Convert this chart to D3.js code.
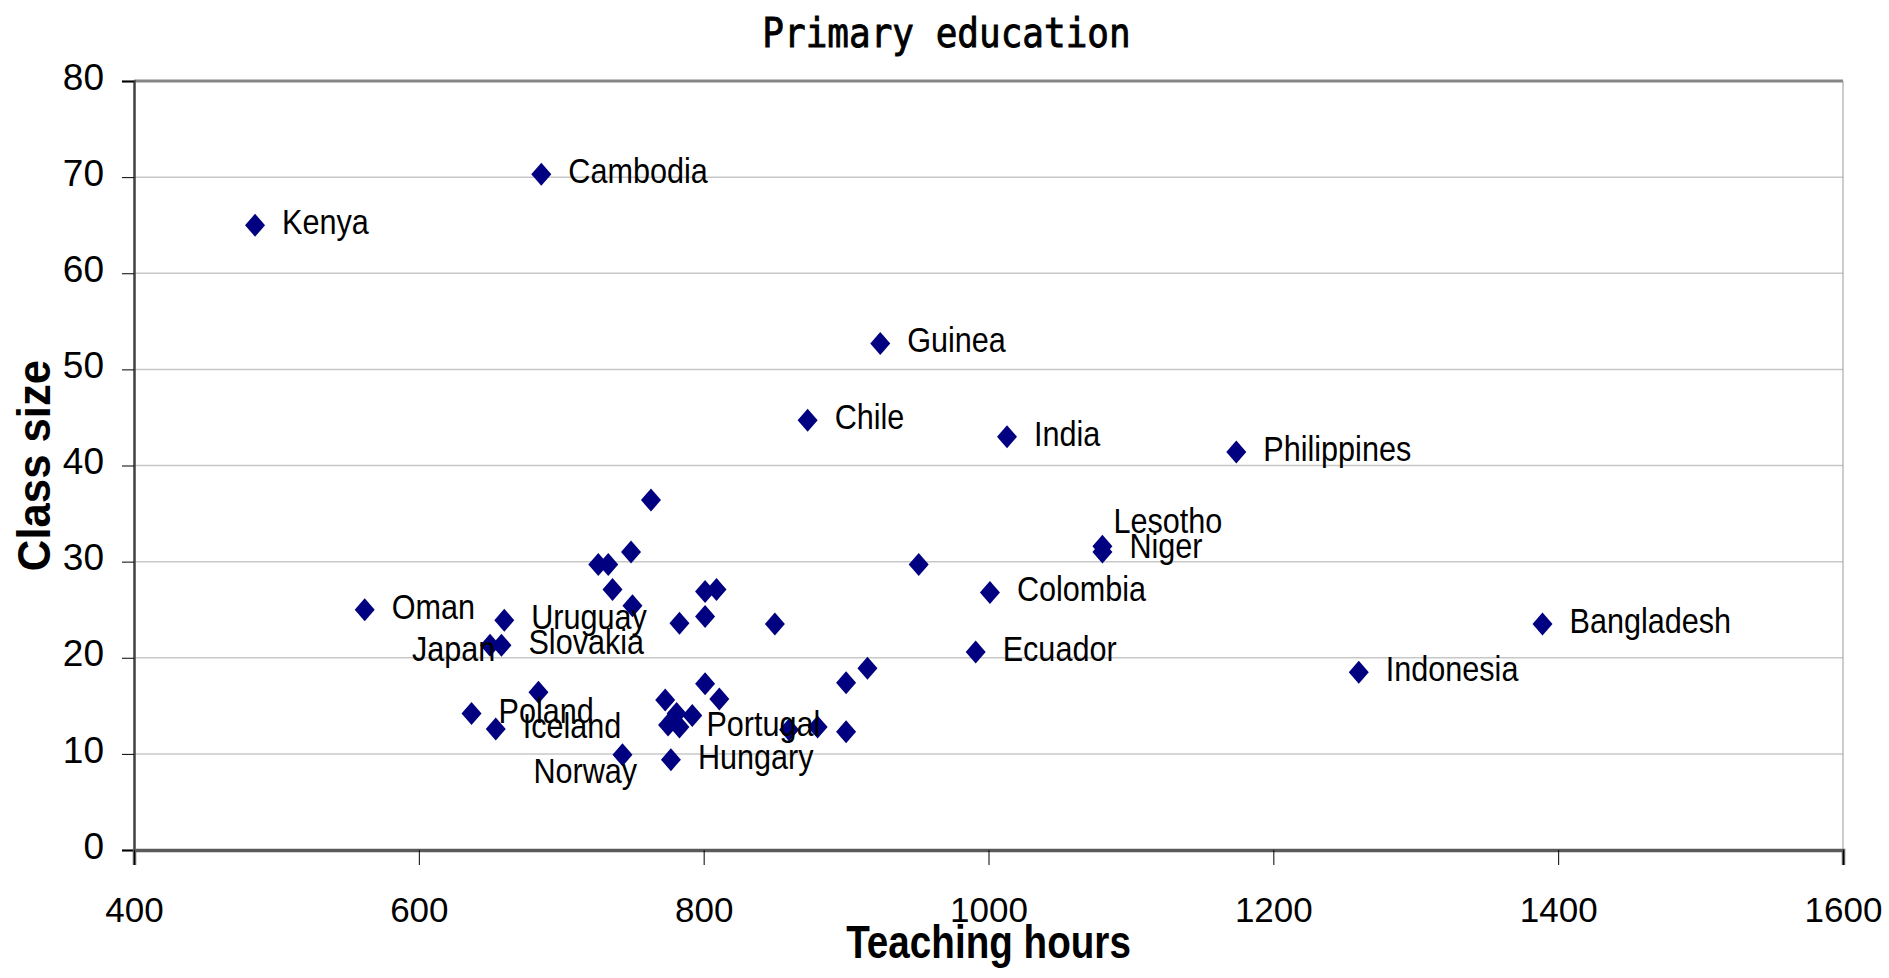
<!DOCTYPE html>
<html>
<head>
<meta charset="utf-8">
<script src="https://cdn.jsdelivr.net/npm/d3@7"></script>
<style>
  body { margin: 0; background: #fff; }
  #chart { width: 1889px; height: 978px; }
</style>
</head>
<body>
<div id="chart"></div>
<script>
// labels ('' = point without a label)
var countries = ['Kenya', 'Cambodia', 'Guinea', 'Chile', 'India', 'Philippines', 'Lesotho', 'Niger',
  'Colombia', 'Ecuador', 'Bangladesh', 'Indonesia', 'Oman', 'Uruguay', 'Slovakia', 'Japan',
  'Poland', 'Iceland', 'Norway', 'Hungary', 'Portugal',
  '', '', '', '', '', '', '', '', '', '', '', '', '', '', '', '', '', '', '', '', '', '', '', ''];
var hours = [485, 686, 924, 873, 1013, 1174, 1080, 1080,
  1001, 991, 1389, 1260, 562, 660, 658, 650,
  637, 654, 743, 777, 783,
  763, 749, 726, 733, 736, 750, 783, 801, 801, 809, 850, 684, 773, 801, 811, 781, 792, 775, 860, 880, 900, 900, 915, 951];
var classSize = [65.0, 70.3, 52.7, 44.7, 43.0, 41.4, 31.6, 31.0,
  26.8, 20.6, 23.5, 18.5, 25.0, 23.9, 21.3, 21.3,
  14.2, 12.6, 9.9, 9.4, 12.8,
  36.4, 31.0, 29.7, 29.7, 27.1, 25.4, 23.6, 24.3, 26.9, 27.1, 23.5, 16.4, 15.6, 17.3, 15.7, 14.2, 14.0, 13.0, 12.5, 12.8, 12.3, 17.4, 18.9, 29.7];
var xTicks = [400, 600, 800, 1000, 1200, 1400, 1600];
var yTicks = [0, 10, 20, 30, 40, 50, 60, 70, 80];

var scatterChart = {

  config: {
    width: 1889,
    height: 978,
    margin: { top: 81, right: 46, bottom: 128, left: 134 },
    color: '#000080',
    font: '"Liberation Sans", Arial, sans-serif',
    // hand-moved labels, like in the original sheet
    labelNudge: { Japan: [-105, 7], Norway: [-116, 19], Lesotho: [-16, -22], Niger: [0, -3] }
  },

  display: function(el) {
    this.el = el;
    this.createSvg();
    this.createScales();
    this.createGrid();
    this.createAxes();
    this.createPoints();
    this.createLabels();
  },

  createSvg: function() {
    this.svg = d3.select(this.el).append('svg')
                 .attr('width', this.config.width)
                 .attr('height', this.config.height);
  },

  createScales: function() {
    var m = this.config.margin;
    this.x = d3.scaleLinear().domain([400, 1600]).range([m.left, this.config.width - m.right]);
    this.y = d3.scaleLinear().domain([0, 80]).range([this.config.height - m.bottom, m.top]);
  },

  createGrid: function() {
    var x = this.x, y = this.y;

    this.svg.append('g')
            .selectAll('line')
            .data(yTicks.filter(function(d) { return d > 0 && d < 80; }))
            .enter()
            .append('line')
            .attr('x1', x(400)).attr('x2', x(1600))
            .attr('y1', y).attr('y2', y)
            .attr('stroke', '#c8c8c8')
            .attr('stroke-width', 1.5);

    // plot frame: heavy top, thin right
    this.svg.append('line')
            .attr('x1', x(400)).attr('x2', x(1600))
            .attr('y1', y(80)).attr('y2', y(80))
            .attr('stroke', '#858585').attr('stroke-width', 3);
    this.svg.append('line')
            .attr('x1', x(1600)).attr('x2', x(1600))
            .attr('y1', y(80)).attr('y2', y(0))
            .attr('stroke', '#9a9a9a').attr('stroke-width', 1);
  },

  createAxes: function() {
    var c = this.config;

    var yAxis = this.svg.append('g')
                    .attr('transform', 'translate(' + this.x(400) + ',0)')
                    .call(d3.axisLeft(this.y).tickValues(yTicks).tickSize(12).tickPadding(18));
    yAxis.select('.domain').attr('stroke', '#404040').attr('stroke-width', 2.5);
    yAxis.selectAll('.tick line').attr('stroke', '#000');
    yAxis.selectAll('.tick text')
         .attr('font-family', c.font).attr('font-size', '37px').attr('fill', '#000')
         .attr('dy', '0.22em');

    var xAxis = this.svg.append('g')
                    .attr('transform', 'translate(0,' + this.y(0) + ')')
                    .call(d3.axisBottom(this.x).tickValues(xTicks).tickFormat(d3.format('d'))
                            .tickSize(15).tickPadding(32));
    xAxis.select('.domain').attr('stroke', '#5a5a5a').attr('stroke-width', 3.5);
    xAxis.selectAll('.tick line').attr('stroke', '#000');
    xAxis.selectAll('.tick text')
         .attr('font-family', c.font).attr('font-size', '35px').attr('fill', '#000');

    this.svg.append('text')
            .attr('transform', 'translate(' + (c.width / 2 + 2) + ',47) scale(1,1.15)')
            .attr('text-anchor', 'middle')
            .attr('font-family', '"DejaVu Sans Mono", monospace')
            .attr('font-size', '36px')
            .attr('stroke', '#000').attr('stroke-width', 0.8)
            .text('Primary education');

    var cx = (this.x(400) + this.x(1600)) / 2;
    this.svg.append('text')
            .attr('transform', 'translate(' + cx + ',958) scale(0.84,1)')
            .attr('text-anchor', 'middle')
            .attr('font-family', c.font).attr('font-weight', 'bold').attr('font-size', '46px')
            .text('Teaching hours');

    var cy = (this.y(0) + this.y(80)) / 2;
    this.svg.append('text')
            .attr('transform', 'translate(50,' + cy + ') rotate(-90) scale(0.95,1)')
            .attr('text-anchor', 'middle')
            .attr('font-family', c.font).attr('font-weight', 'bold').attr('font-size', '46px')
            .text('Class size');
  },

  createPoints: function() {
    var x = this.x, y = this.y;

    this.svg.append('g')
            .selectAll('path')
            .data(hours)
            .enter()
            .append('path')
            .attr('d', 'M0,-11.5L10,0L0,11.5L-10,0Z')
            .attr('transform', function(d, i) { return 'translate(' + x(d) + ',' + y(classSize[i]) + ')'; })
            .attr('fill', this.config.color);
  },

  createLabels: function() {
    var x = this.x, y = this.y, nudge = this.config.labelNudge;

    this.svg.append('g')
            .selectAll('text')
            .data(countries.map(function(name, i) { return { name: name, i: i }; })
                           .filter(function(d) { return d.name !== ''; }))
            .enter()
            .append('text')
            .attr('transform', function(d) {
              var n = nudge[d.name] || [0, 0];
              var px = x(hours[d.i]) + 27 + n[0],
                  py = y(classSize[d.i]) + 9 + n[1];
              return 'translate(' + px + ',' + py + ') scale(0.85,1)';
            })
            .attr('font-family', this.config.font)
            .attr('font-size', '36px')
            .attr('fill', '#000')
            .text(function(d) { return d.name; });
  }

};

scatterChart.display('#chart');
</script>
</body>
</html>
